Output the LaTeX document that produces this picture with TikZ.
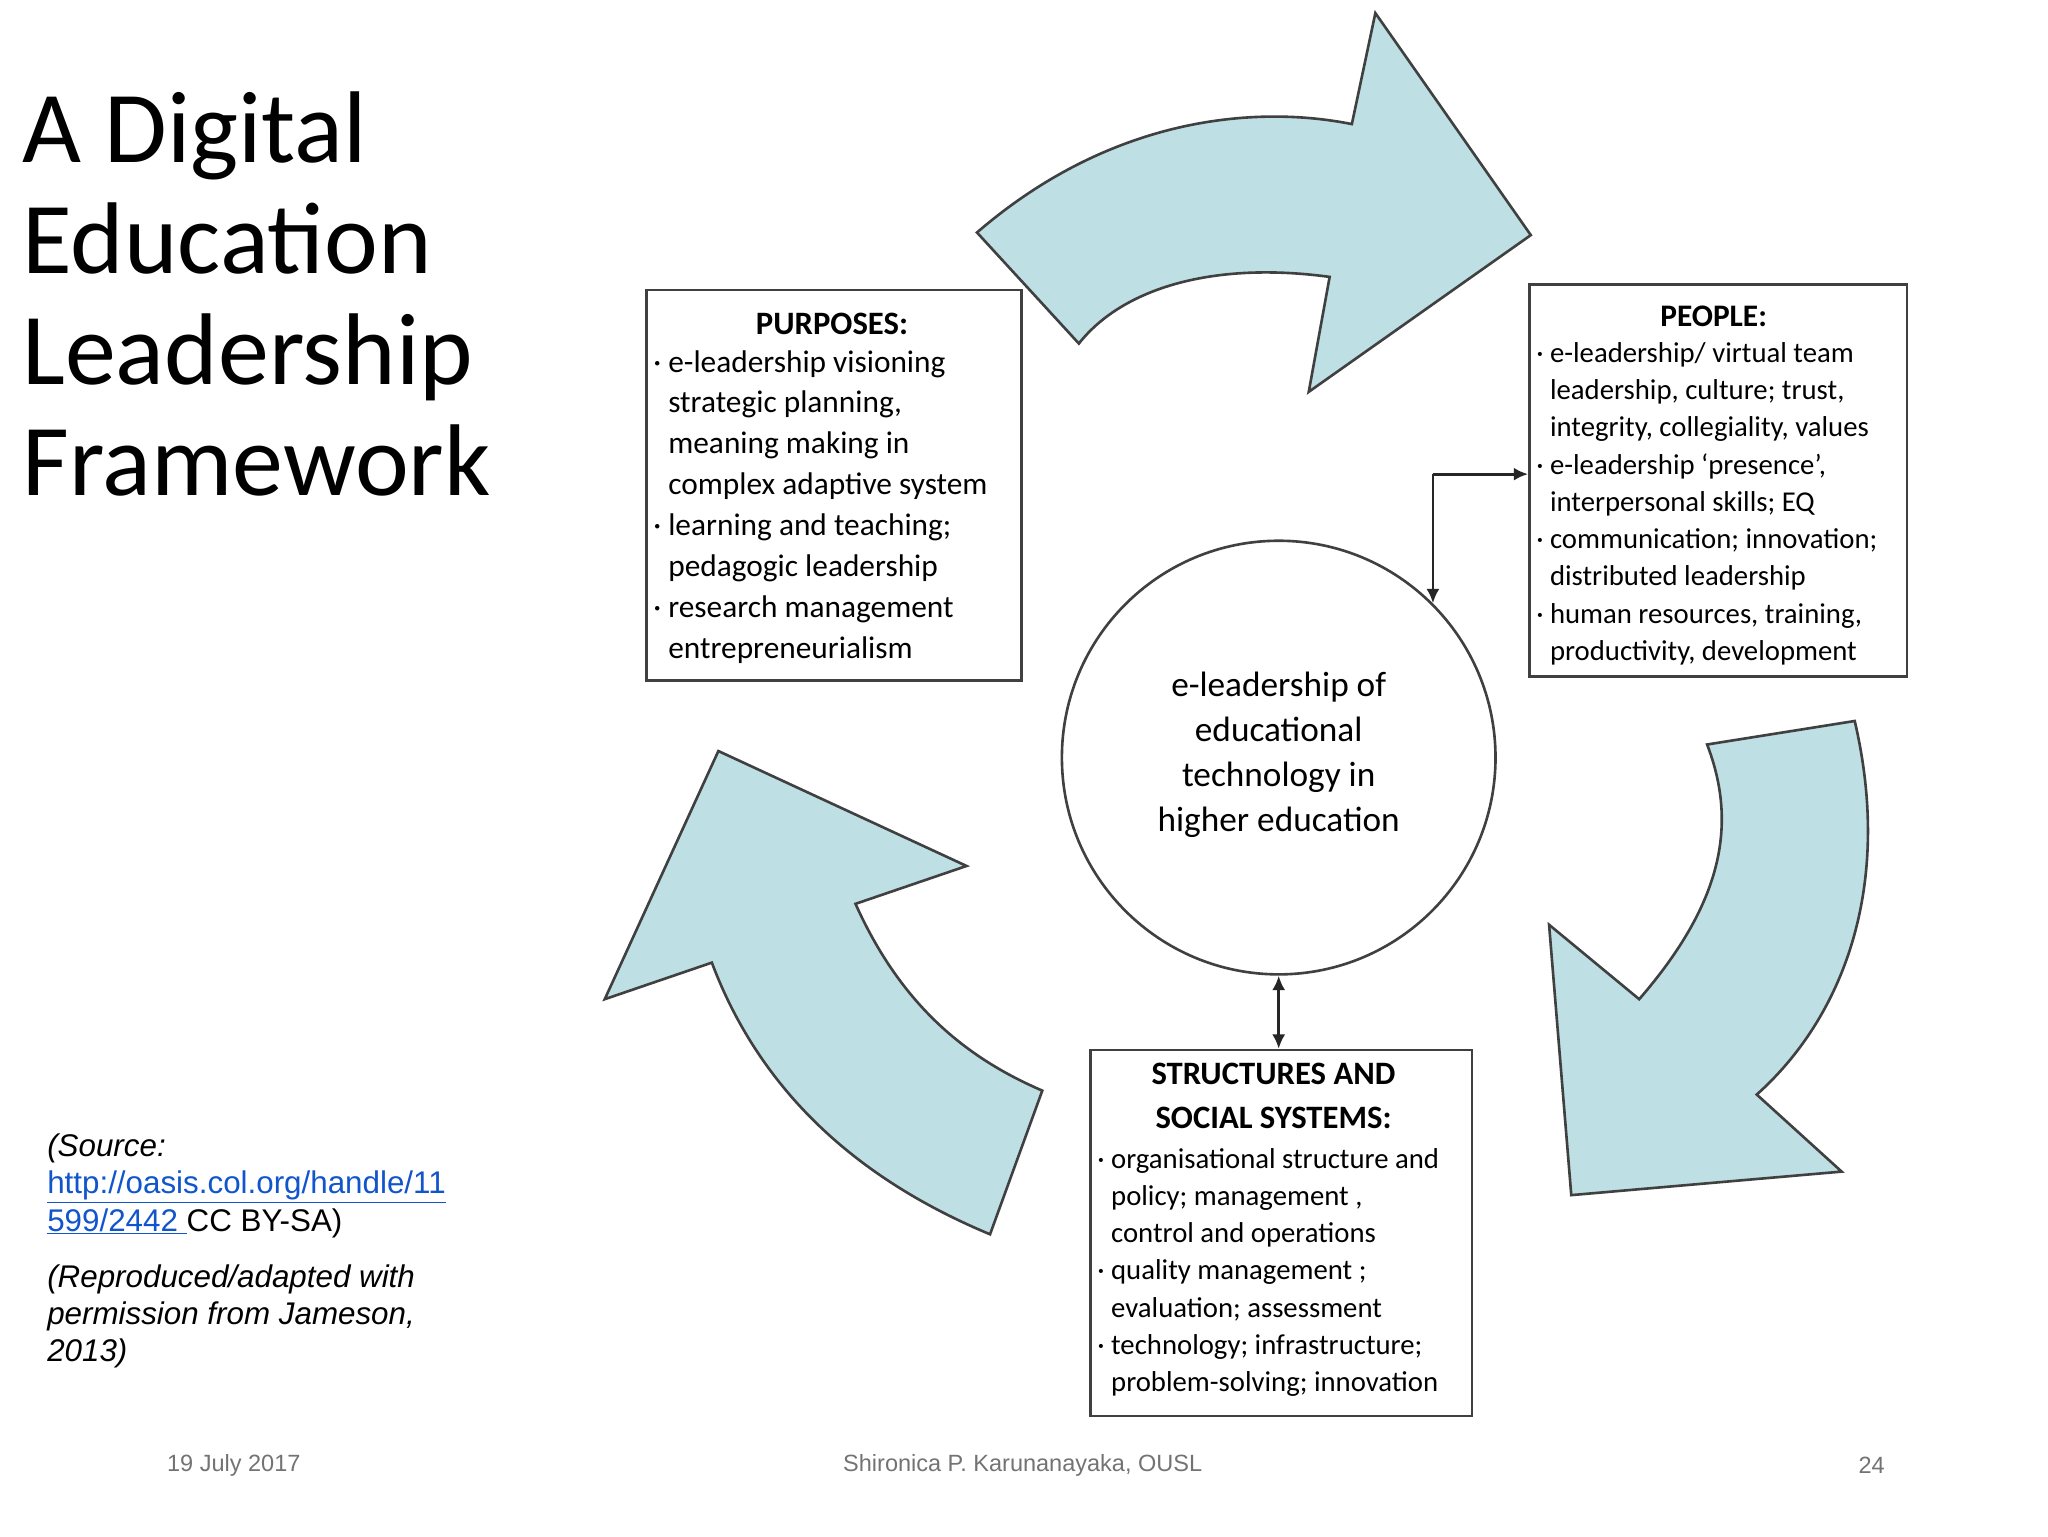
\documentclass[tikz,border=0pt]{standalone}
\usepackage{fontspec}
\usetikzlibrary{arrows.meta}
\setmainfont{Carlito}
\newfontfamily\arialf{Liberation Sans}
\definecolor{arrowfill}{HTML}{BEDFE3}
\definecolor{linkblue}{HTML}{1155CC}
\begin{document}
\begin{tikzpicture}[x=1pt,y=-1pt,
  blk/.style={fill=arrowfill,draw=black!75,line width=2pt,line join=miter},
  box/.style={draw=black!75,line width=2pt},
  btxt/.style={anchor=north west,align=left,inner sep=0pt},
  conn/.style={line width=2.2pt,black!85}]
\useasboundingbox (0,0) rectangle (1568,1176);
\fill[white] (0,0) rectangle (1568,1176);
% block arrows
\draw[blk] (748,178) .. controls (850,90) and (960,80) .. (1035,95) -- (1053,10) -- (1172,180) -- (1002,300) -- (1018,212) .. controls (930,200) and (860,220) .. (826,263) -- cycle;
\draw[blk] (1307,570) -- (1420,552) .. controls (1450,680) and (1410,780) .. (1345,838) -- (1410,897) -- (1203,915) -- (1186,708) -- (1255,765) .. controls (1320,690) and (1330,630) .. (1307,570) -- cycle;
\draw[blk] (550,575) -- (740,663) -- (655,692) .. controls (690,770) and (740,810) .. (798,835) -- (758,945) .. controls (650,900) and (580,830) .. (545,737) -- (463,765) -- cycle;
% boxes
\node[box,minimum width=287pt,minimum height=299pt,anchor=north west] (pur) at (494,221) {};
\node[box,minimum width=289pt,minimum height=300pt,anchor=north west] (peo) at (1170,217) {};
\node[box,minimum width=292pt,minimum height=280pt,anchor=north west] (str) at (834,803) {};
\node[circle,draw=black!75,line width=2pt,minimum size=332pt] (c) at (979,580) {};
% texts
\node[font=\fontsize{25}{31}\selectfont\bfseries,anchor=center] at (637,248) {PURPOSES:};
\node[btxt,font=\fontsize{24}{31.3}\selectfont] (purt) at (500,268) {%
\textperiodcentered\ e-leadership visioning\\
\phantom{\textperiodcentered\ }strategic planning,\\
\phantom{\textperiodcentered\ }meaning making in\\
\phantom{\textperiodcentered\ }complex adaptive system\\
\textperiodcentered\ learning and teaching;\\
\phantom{\textperiodcentered\ }pedagogic leadership\\
\textperiodcentered\ research management\\
\phantom{\textperiodcentered\ }entrepreneurialism};
\node[font=\fontsize{24}{30}\selectfont\bfseries,anchor=center] at (1312,242) {PEOPLE:};
\node[btxt,font=\fontsize{22}{28.5}\selectfont] (peot) at (1176,262) {%
\textperiodcentered\ e-leadership/ virtual team\\
\phantom{\textperiodcentered\ }leadership, culture; trust,\\
\phantom{\textperiodcentered\ }integrity, collegiality, values\\
\textperiodcentered\ e-leadership `presence',\\
\phantom{\textperiodcentered\ }interpersonal skills; EQ\\
\textperiodcentered\ communication; innovation;\\
\phantom{\textperiodcentered\ }distributed leadership\\
\textperiodcentered\ human resources, training,\\
\phantom{\textperiodcentered\ }productivity, development};
\node[font=\fontsize{25}{34}\selectfont\bfseries,align=center,anchor=north] at (975,810) {STRUCTURES AND\\SOCIAL SYSTEMS:};
\node[btxt,font=\fontsize{22}{28.5}\selectfont] (strt) at (840,879) {%
\textperiodcentered\ organisational structure and\\
\phantom{\textperiodcentered\ }policy; management ,\\
\phantom{\textperiodcentered\ }control and operations\\
\textperiodcentered\ quality management ;\\
\phantom{\textperiodcentered\ }evaluation; assessment\\
\textperiodcentered\ technology; infrastructure;\\
\phantom{\textperiodcentered\ }problem-solving; innovation};
\node[font=\fontsize{27}{34.5}\selectfont,align=center] at (979,578) {e-leadership of\\educational\\technology in\\higher education};
% connectors
\coordinate (j) at (1097,363);
\draw[conn,-{Latex[length=11pt,width=10pt]}] (c.45 |- j) -- (peo.west |- j);
\draw[conn,-{Latex[length=11pt,width=10pt]}] (c.45 |- j) -- (c.45);
\draw[conn,{Latex[length=11pt,width=10pt]}-{Latex[length=11pt,width=10pt]}] (c.south) -- (str.north -| c.south);
% title
\node[btxt,font=\fontsize{78}{85}\selectfont] (title) at (17,70) {A Digital\\Education\\Leadership\\Framework};
% source
\node[btxt,font=\arialf\fontsize{24}{28.5}\selectfont] (src) at (36,868) {\textit{(Source:}\\
\textcolor{linkblue}{\underline{http://oasis.col.org/handle/11}}\\
\textcolor{linkblue}{\underline{599/2442 }}CC BY-SA)};
\node[btxt,font=\arialf\fontsize{24}{28.5}\selectfont\itshape] (rep) at (36,968) {(Reproduced/adapted with\\permission from Jameson,\\2013)};
% footer
\node[font=\arialf\fontsize{18}{20}\selectfont,text=black!55] at (179,1122) {19 July 2017};
\node[font=\arialf\fontsize{18}{20}\selectfont,text=black!55] at (783,1122) {Shironica P. Karunanayaka, OUSL};
\node[font=\arialf\fontsize{18}{20}\selectfont,text=black!55] at (1433,1122) {24};
\end{tikzpicture}
\end{document}
